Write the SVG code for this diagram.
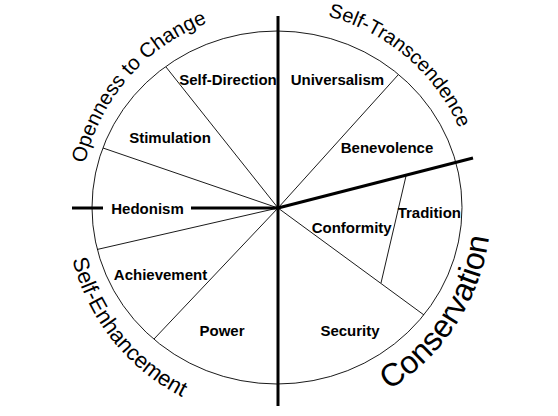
<svg xmlns="http://www.w3.org/2000/svg" xmlns:xlink="http://www.w3.org/1999/xlink" width="558" height="416" viewBox="0 0 558 416">
<style>
.thin{stroke:#000;stroke-width:0.9;fill:none}
.thick{stroke:#000;stroke-width:3;fill:none}
.lbl{font-family:"Liberation Sans",Arial,sans-serif;font-weight:bold;font-size:15px;fill:#000;text-anchor:middle}
.arc{font-family:"Liberation Sans",Arial,sans-serif;fill:#000;text-anchor:middle}
</style>
<defs>
<path id="pOpen" d="M 82.4 239 A 198 198 0 0 1 281.5 10"/>
<path id="pTrans" d="M 245 12.8 A 198 198 0 0 1 476 209.4"/>
<path id="pEnh" d="M 70.2 166.1 A 212 212 0 0 0 272.8 419.9"/>
<path id="pCons" d="M 303 419.5 A 213 213 0 0 0 482 146.6"/>
</defs>
<rect width="558" height="416" fill="#fff"/>
<ellipse id="wheel" class="thin" cx="277" cy="207.5" rx="185" ry="176.5"/>
<g id="connectors">
<line class="thin" x1="278" y1="208" x2="166" y2="67"/>
<line class="thin" x1="278" y1="208" x2="103" y2="148"/>
<line class="thin" x1="278" y1="208" x2="97" y2="249.5"/>
<line class="thin" x1="278" y1="208" x2="154" y2="339"/>
<line class="thin" x1="278" y1="208" x2="398" y2="75"/>
<line class="thin" x1="278" y1="208" x2="424" y2="315"/>
<line class="thin" x1="406" y1="176" x2="381" y2="283"/>
<line class="thick" x1="278" y1="16" x2="278" y2="406"/>
<line class="thick" x1="72" y1="208" x2="103" y2="208"/>
<line class="thick" x1="191" y1="208" x2="278" y2="208"/>
<line class="thick" x1="278" y1="208" x2="473" y2="158"/>
</g>
<g id="self-direction"><text class="lbl" x="228" y="84.5">Self-Direction</text></g>
<g id="universalism"><text class="lbl" x="337.4" y="84.5">Universalism</text></g>
<g id="stimulation"><text class="lbl" x="170" y="143">Stimulation</text></g>
<g id="benevolence"><text class="lbl" x="387" y="153">Benevolence</text></g>
<g id="hedonism"><text class="lbl" x="147.5" y="213.5">Hedonism</text></g>
<g id="achievement"><text class="lbl" x="160.5" y="280">Achievement</text></g>
<g id="power"><text class="lbl" x="222" y="336">Power</text></g>
<g id="conformity"><text class="lbl" x="351.7" y="233">Conformity</text></g>
<g id="tradition"><text class="lbl" x="429.3" y="217.7">Tradition</text></g>
<g id="security"><text class="lbl" x="350" y="335.7">Security</text></g>
<g id="openness"><text class="arc" font-size="20.5"><textPath xlink:href="#pOpen" href="#pOpen" startOffset="50%">Openness to Change</textPath></text></g>
<g id="self-transcendence"><text class="arc" font-size="20"><textPath xlink:href="#pTrans" href="#pTrans" startOffset="50%">Self-Transcendence</textPath></text></g>
<g id="self-enhancement"><text class="arc" font-size="22"><textPath xlink:href="#pEnh" href="#pEnh" startOffset="50%">Self-Enhancement</textPath></text></g>
<g id="conservation"><text class="arc" font-size="32"><textPath xlink:href="#pCons" href="#pCons" startOffset="50%">Conservation</textPath></text></g>
</svg>
